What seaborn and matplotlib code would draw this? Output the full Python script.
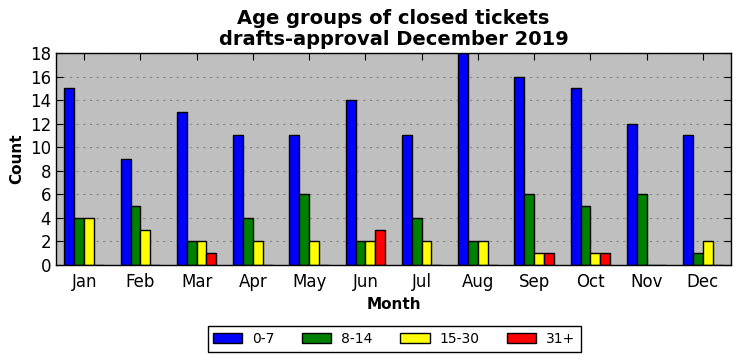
import matplotlib
matplotlib.use('Agg')
import matplotlib.pyplot as plt
import pandas as pd
import seaborn as sns

months = ['Jan', 'Feb', 'Mar', 'Apr', 'May', 'Jun', 'Jul', 'Aug', 'Sep', 'Oct', 'Nov', 'Dec']
groups = ['0-7', '8-14', '15-30', '31+']
age_0_7 = [15, 9, 13, 11, 11, 14, 11, 18, 16, 15, 12, 11]
age_8_14 = [4, 5, 2, 4, 6, 2, 4, 2, 6, 5, 6, 1]
age_15_30 = [4, 3, 2, 2, 2, 2, 2, 2, 1, 1, 0, 2]
age_31 = [0, 0, 1, 0, 0, 3, 0, 0, 1, 1, 0, 0]
colors = ['#0000ff', '#008000', '#ffff00', '#ff0000']

rows = []
for g, vals in zip(groups, [age_0_7, age_8_14, age_15_30, age_31]):
    for m, v in zip(months, vals):
        rows.append({'Month': m, 'Count': v, 'Age': g})
df = pd.DataFrame(rows)

sns.set_style('ticks')
plt.rcParams['font.family'] = ['DejaVu Sans']
plt.rcParams['text.color'] = 'black'
plt.rcParams['axes.labelcolor'] = 'black'
plt.rcParams['xtick.color'] = 'black'
plt.rcParams['ytick.color'] = 'black'

fig = plt.figure(figsize=(7.41, 3.61), dpi=100)
ax = fig.add_axes([0.0756, 0.266, 0.9109, 0.587])
ax.set_facecolor('#bfbfbf')
ax.set_axisbelow(True)
ax.yaxis.grid(True, color='#888888', linestyle=(0, (2, 4)), linewidth=0.8)

sns.barplot(data=df, x='Month', y='Count', hue='Age', order=months, hue_order=groups,
            palette=colors, width=0.7, gap=0, edgecolor='black', linewidth=1,
            saturation=1, legend=True, ax=ax)

ax.set_ylim(0, 18)
ax.set_yticks(range(0, 19, 2))
ax.set_xlim(-0.5, 11.5)
ax.tick_params(direction='in', top=True, right=True, length=5, labelsize=12)
ax.tick_params(axis='x', pad=6)
for s in ax.spines.values():
    s.set_color('black')
    s.set_linewidth(1)
ax.set_xlabel('Month', fontsize=11, fontweight='bold')
ax.set_ylabel('Count', fontsize=11, fontweight='bold')
ax.set_title('Age groups of closed tickets\ndrafts-approval December 2019',
             fontsize=14, fontweight='bold', linespacing=1.1)

ax.legend_.remove()
handles, labels = ax.get_legend_handles_labels()
leg = fig.legend(handles, labels, loc='center', bbox_to_anchor=(0.532, 0.061), ncol=4,
                 fancybox=False, edgecolor='black', fontsize=10, framealpha=1,
                 handlelength=2.1, handletextpad=0.7, columnspacing=2.0, borderpad=0.4)
leg.get_frame().set_linewidth(1)

fig.savefig('out.png', dpi=100)
